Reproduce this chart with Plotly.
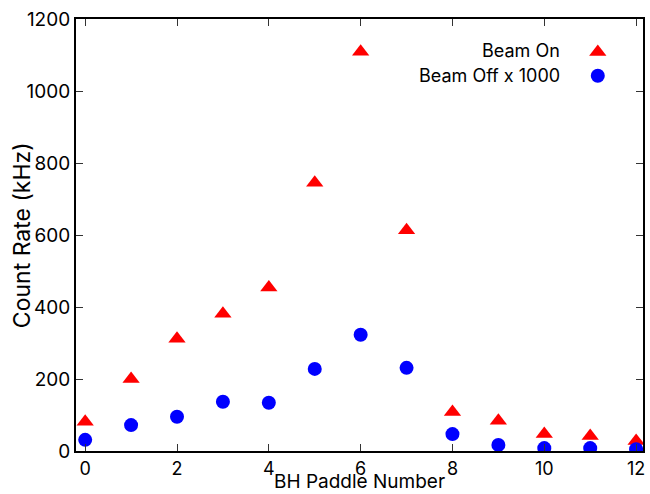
import plotly.graph_objects as go

paddles = list(range(13))
beam_on = [81, 200, 312, 381, 454, 745, 1109, 613, 108, 84, 47, 42, 28]
beam_off_x1000 = [31, 72, 95, 137, 134, 228, 323, 231, 47, 17, 8, 8, 5]

x_ticks = [0, 2, 4, 6, 8, 10, 12]
y_ticks = [0, 200, 400, 600, 800, 1000, 1200]
labels = ["Beam On", "Beam Off x 1000"]
x_title = "BH Paddle Number"
y_title = "Count Rate (kHz)"

FONT = "Inter"

fig = go.Figure()
fig.add_trace(go.Scatter(x=paddles, y=beam_on, mode="markers", name="",
                         marker=dict(symbol="triangle-up", size=15, color="#ff0000")))
fig.add_trace(go.Scatter(x=paddles, y=beam_off_x1000, mode="markers", name="",
                         marker=dict(symbol="circle", size=14, color="#0000ff")))

axis_common = dict(showgrid=False, zeroline=False, showline=True, linecolor="black",
                   linewidth=2, mirror="ticks", ticks="inside", ticklen=7, tickwidth=1,
                   tickcolor="#333333", automargin=False)

fig.update_xaxes(range=[-0.2, 12.15], tickvals=x_ticks,
                 tickfont=dict(family=FONT, size=18, color="black"), **axis_common)
fig.update_yaxes(range=[0, 1200], tickvals=y_ticks,
                 tickfont=dict(family=FONT, size=19, color="black"), **axis_common)

# axis titles
fig.add_annotation(text=x_title, xref="paper", yref="paper", x=0.5, y=-0.1,
                   xanchor="center", yanchor="bottom", showarrow=False, borderpad=0,
                   font=dict(family=FONT, size=19, color="black"))
fig.add_annotation(text=y_title, xref="paper", yref="paper", x=-0.095, y=0.5,
                   xanchor="center", yanchor="middle", showarrow=False, textangle=-90,
                   font=dict(family=FONT, size=23, color="black"))

for lab, yy in zip(labels, [0.928, 0.870]):
    fig.add_annotation(text=lab, xref="paper", yref="paper", x=0.857, y=yy,
                       xanchor="right", yanchor="middle", showarrow=False,
                       font=dict(family=FONT, size=18, color="black"))

fig.update_layout(
    width=650, height=494,
    margin=dict(l=76, r=7, t=19, b=43),
    paper_bgcolor="white", plot_bgcolor="white",
    showlegend=True,
    legend=dict(x=0.885, y=0.963, xanchor="left", yanchor="top",
                bgcolor="rgba(0,0,0,0)", font=dict(family=FONT, size=16),
                tracegroupgap=0, itemwidth=30),
)

fig.write_html("out.html")
